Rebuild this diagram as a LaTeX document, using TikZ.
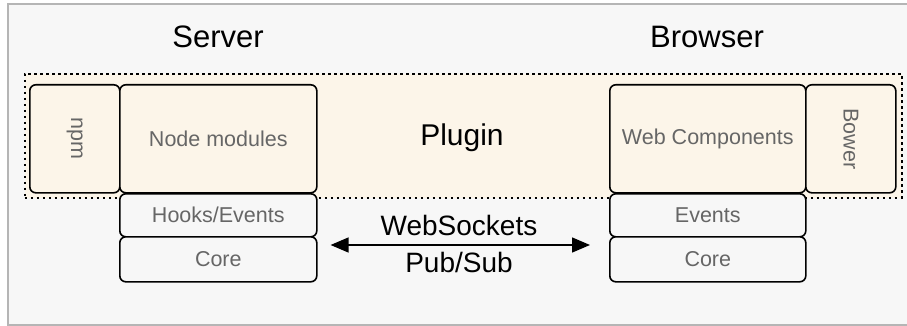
\documentclass[tikz,border=0pt]{standalone}
\usepackage{fontspec}
\setmainfont{Liberation Sans}
\usetikzlibrary{arrows.meta}
\definecolor{bgc}{HTML}{F7F7F7}
\definecolor{framec}{HTML}{B5B5B5}
\definecolor{creamc}{HTML}{FCF5E9}
\definecolor{boxtext}{HTML}{666666}
\tikzset{
  box/.style={draw=black, line width=1.6pt, rounded corners=6pt, inner sep=0pt,
    text=boxtext, font=\fontsize{21.5}{24}\selectfont, anchor=north west},
  topbox/.style={box, fill=creamc},
  lowbox/.style={box, fill=bgc},
  title/.style={font=\fontsize{31}{34}\selectfont, text=black, inner sep=0pt},
  lbl/.style={font=\fontsize{28}{30}\selectfont, text=black, inner sep=0pt},
  link/.style={line width=1.5pt, {Triangle[length=18pt,width=15pt]}-{Triangle[length=18pt,width=15pt]}}
}
\begin{document}
\begin{tikzpicture}[x=1pt,y=-1pt]
\useasboundingbox (0,0) rectangle (907,326);
\clip (0,0) rectangle (907,326);
\draw[fill=bgc, draw=framec, line width=2pt] (8,4) rectangle (915,325);
% plugin area
\node[draw=black, fill=creamc, line width=1.8pt, dash pattern=on 2.5pt off 3.5pt,
  minimum width=877pt, minimum height=124pt, inner sep=0pt, anchor=north west] (plugin) at (24,73) {};
\node[title, anchor=base] (pluginlbl) at (462,146) {\fontsize{30}{32}\selectfont Plugin};
\node[title, anchor=base] (server) at (218,48) {Server};
\node[title, anchor=base] (browser) at (707,48) {Browser};
% server side
\node[topbox, minimum width=90pt, minimum height=108pt] (npm) at (29,84) {};
\node[text=boxtext, font=\fontsize{21.5}{24}\selectfont, rotate=-90] (npmlbl) at (npm.center) {npm};
\node[topbox, minimum width=197pt, minimum height=108pt] (nodemod) at (119,84) {Node modules};
\node[lowbox, minimum width=197pt, minimum height=43pt] (hooks) at (119,193) {Hooks/Events};
\node[lowbox, minimum width=197pt, minimum height=45pt] (coreL) at (119,236) {Core};
% browser side
\node[topbox, minimum width=196pt, minimum height=108pt] (webc) at (609,84) {Web Components};
\node[topbox, minimum width=90pt, minimum height=108pt] (bower) at (805,84) {};
\node[text=boxtext, font=\fontsize{21.5}{24}\selectfont, rotate=-90] (bowerlbl) at (bower.center) {Bower};
\node[lowbox, minimum width=196pt, minimum height=43pt] (events) at (609,193) {Events};
\node[lowbox, minimum width=196pt, minimum height=45pt] (coreR) at (609,236) {Core};
% connector
\draw[link] ([xshift=13pt,yshift=-9pt]coreL.north east) coordinate (aL) -- ([xshift=-19pt,yshift=-9pt]coreR.north west) coordinate (aR);
\node[lbl, anchor=base] (ws) at (459,235) {WebSockets};
\node[lbl, anchor=base] (ps) at (459,272) {Pub/Sub};
\end{tikzpicture}
\end{document}
